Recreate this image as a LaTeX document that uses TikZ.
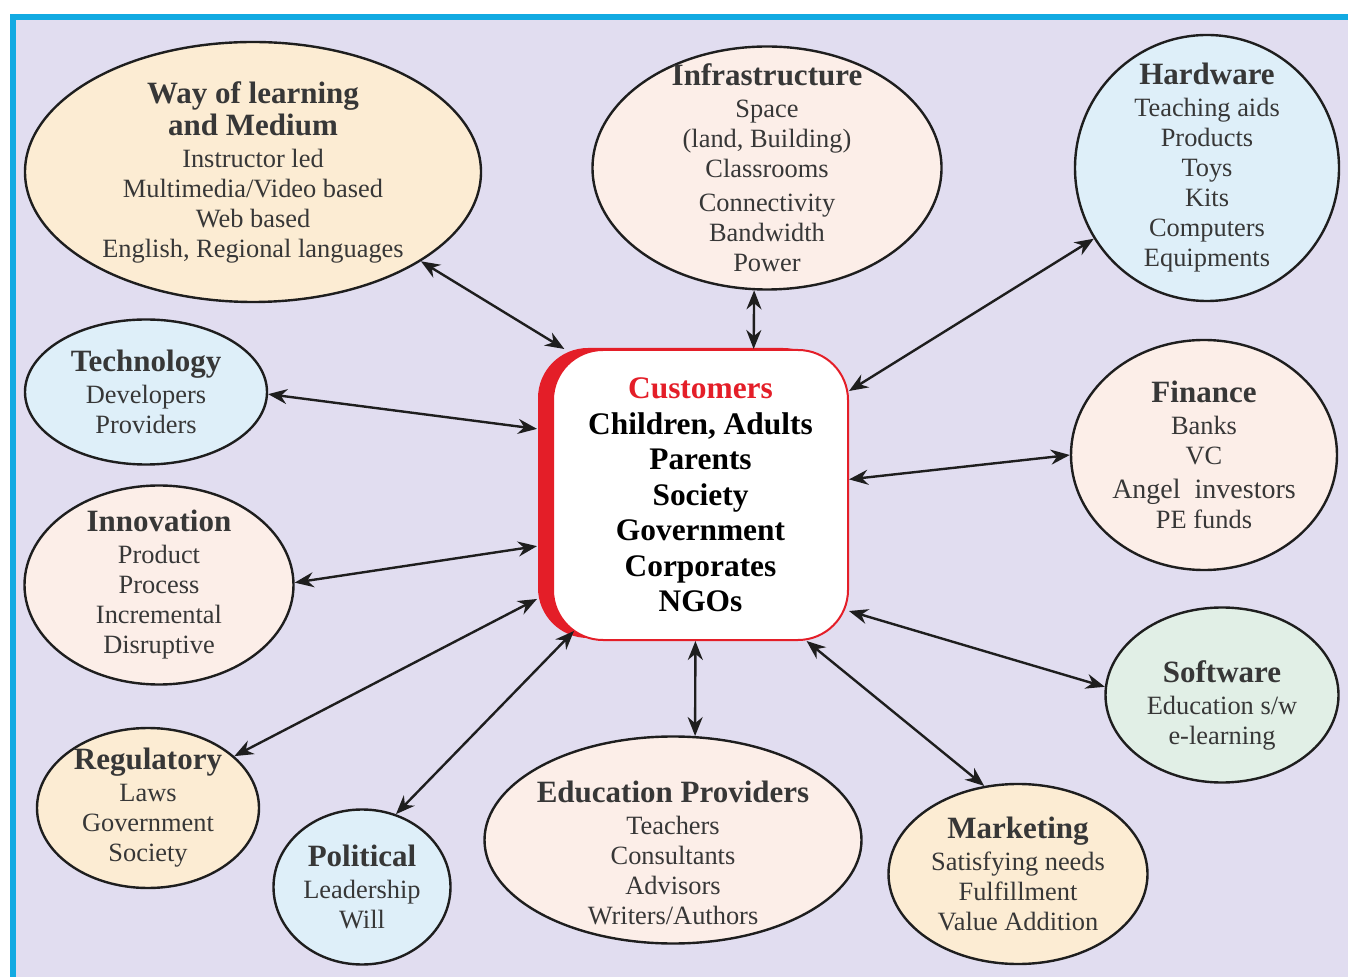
\documentclass[tikz,border=0pt]{standalone}
\usepackage{fontspec}
\setmainfont{Liberation Serif}
\usetikzlibrary{arrows.meta,shapes.geometric,shadows}

\definecolor{frameblue}{RGB}{18,170,226}
\definecolor{lavender}{RGB}{225,221,240}
\definecolor{peach}{RGB}{252,236,211}
\definecolor{rose}{RGB}{252,238,232}
\definecolor{skyblue}{RGB}{222,239,249}
\definecolor{mint}{RGB}{225,239,230}
\definecolor{custred}{RGB}{228,30,40}
\definecolor{txtgray}{RGB}{55,55,55}
\definecolor{linkgray}{RGB}{30,30,30}

\newcommand{\btitle}[1]{{\fontsize{15.5}{16}\selectfont\bfseries #1}}

\begin{document}
\begin{tikzpicture}[x=0.5pt,y=0.5pt,yscale=-1,
  bubble/.style={ellipse, draw=linkgray, line width=1.2pt, inner sep=-25pt,
    align=center, text=txtgray, font=\fontsize{13.2}{15}\selectfont},
  link/.style={draw=linkgray, line width=1.2pt,
    {Stealth[length=9.5pt,width=7.5pt]}-{Stealth[length=9.5pt,width=7.5pt]}}]
\useasboundingbox (0,0) rectangle (1348,977);

%Shape: Rectangle (frame)
\fill [frameblue] (10,14) rectangle (1348,977);
\fill [lavender] (16,20) rectangle (1348,977);

%Shape: Rounded Rectangle
\node [draw=custred, line width=1pt, fill=white, rounded corners=25pt,
  minimum width=147.5pt, minimum height=145pt, align=center,
  font=\fontsize{15.7}{17.75}\selectfont\bfseries,
  drop shadow={shadow xshift=-7.5pt, shadow yshift=1pt, opacity=1, fill=custred}]
  (cust) at (700.5,495)
  {\textcolor{custred}{Customers}\\Children, Adults\\Parents\\Society\\Government\\Corporates\\NGOs};

%Shape: Ellipse
\node [bubble, fill=peach, minimum width=228pt, minimum height=130pt] (way) at (253,172)
  {\btitle{Way of learning}\\[1pt]\btitle{and Medium}\\[1pt]Instructor led\\Multimedia/Video based\\Web based\\English, Regional languages};
%Shape: Ellipse
\node [bubble, fill=rose, minimum width=174.5pt, minimum height=121.5pt] (infra) at (767,168)
  {\btitle{Infrastructure}\\[1pt]Space\\(land, Building)\\Classrooms\\[2pt]Connectivity\\Bandwidth\\Power};
%Shape: Ellipse
\node [bubble, fill=skyblue, minimum width=132pt, minimum height=133pt] (hard) at (1207,168)
  {\btitle{Hardware}\\[1pt]Teaching aids\\Products\\Toys\\Kits\\Computers\\Equipments};
%Shape: Ellipse
\node [bubble, fill=skyblue, minimum width=121pt, minimum height=72.5pt] (tech) at (146,392)
  {\btitle{Technology}\\[1pt]Developers\\Providers};
%Shape: Ellipse
\node [bubble, fill=rose, minimum width=133pt, minimum height=115pt] (fin) at (1204,455)
  {\btitle{Finance}\\[1pt]Banks\\VC\\[2pt]{\fontsize{14}{15}\selectfont Angel~ investors}\\PE funds};
%Shape: Ellipse
\node [bubble, fill=rose, minimum width=134.5pt, minimum height=99.5pt] (innov) at (159,585)
  {\btitle{Innovation}\\[1pt]Product\\Process\\Incremental\\Disruptive};
%Shape: Ellipse
\node [bubble, fill=mint, minimum width=116.5pt, minimum height=87.5pt] (soft) at (1222,695)
  {\mbox{}\\[6pt]\btitle{Software}\\[1pt]Education s/w\\e-learning};
%Shape: Ellipse
\node [bubble, fill=peach, minimum width=111pt, minimum height=80pt] (reg) at (148,808)
  {\btitle{Regulatory}\\[1pt]Laws\\Government\\Society};
%Shape: Ellipse
\node [bubble, fill=skyblue, minimum width=88.5pt, minimum height=77.5pt] (pol) at (362,887)
  {\btitle{Political}\\[1pt]Leadership\\Will};
%Shape: Ellipse
\node [bubble, fill=rose, minimum width=188.5pt, minimum height=103.5pt] (edu) at (673,840)
  {\mbox{}\\[9pt]\btitle{Education Providers}\\[1pt]Teachers\\Consultants\\Advisors\\Writers/Authors};
%Shape: Ellipse
\node [bubble, fill=peach, minimum width=129.5pt, minimum height=90pt] (mkt) at (1018,874)
  {\btitle{Marketing}\\[1pt]Satisfying needs\\Fulfillment\\Value Addition};

%Straight Lines
\draw [link] (way.-28.4) -- (cust.133.5);
\draw [link] (infra.-96.9) -- (cust.70.7);
\draw [link] (hard.-148.7) -- (cust.35.3);
\draw [link] (tech.-1.4) -- ([xshift=-7.5pt]cust.156.9);
\draw [link] (fin.180) -- (cust.6.6);
\draw [link] (innov.1.3) -- ([xshift=-7.5pt]cust.199.8);
\draw [link] (reg.31.7) -- ([xshift=-7.5pt]cust.215.8);
\draw [link] (pol.65.6) -- ([shift={(22,-10)}]cust.south west);
\draw [link] (edu.78.9) -- (cust.-92.6);
\draw [link] (mkt.111.9) -- (cust.-54.6);
\draw [link] (soft.176.1) -- (cust.-38.2);

\end{tikzpicture}
\end{document}
